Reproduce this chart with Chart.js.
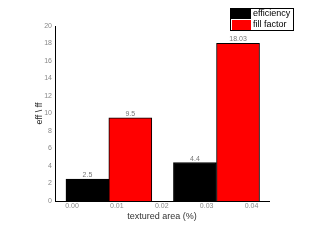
<!DOCTYPE html>
<html>
<head>
<meta charset="utf-8">
<script src="https://cdn.jsdelivr.net/npm/chart.js@4/dist/chart.umd.min.js"></script>
<style>
html,body{margin:0;padding:0;background:#fff;}
#wrap{width:317px;height:245px;position:relative;}
</style>
</head>
<body>
<div id="wrap"><canvas id="c" width="317" height="245"></canvas></div>
<script>
const seriesNames = ['efficiency', 'fill factor'];
const efficiencyX = [0.00345, 0.0274];
const efficiencyY = [2.5, 4.4];
const fillFactorX = [0.0130, 0.0370];
const fillFactorY = [9.5, 18.03];
const xTickLabels = ['0.00', '0.01', '0.02', '0.03', '0.04'];
const yTickLabels = ['0', '2', '4', '6', '8', '10', '12', '14', '16', '18', '20'];
const xTitle = 'textured area (%)';
const yTitle = 'eff \\ ff';

const toPts = (xs, ys) => xs.map((x, i) => ({x: x, y: ys[i]}));

const valueLabels = {
  id: 'valueLabels',
  afterDatasetsDraw(chart) {
    const ctx = chart.ctx;
    ctx.save();
    ctx.font = '7px "Liberation Sans", Arial, sans-serif';
    ctx.fillStyle = '#777';
    ctx.textAlign = 'center';
    ctx.textBaseline = 'alphabetic';
    chart.data.datasets.forEach((ds, di) => {
      chart.getDatasetMeta(di).data.forEach((bar, i) => {
        ctx.fillText(String(ds.data[i].y), bar.x, bar.y - 2);
      });
    });
    ctx.restore();
  }
};

const boxLegend = {
  id: 'boxLegend',
  afterDraw(chart) {
    const ctx = chart.ctx;
    ctx.save();
    const x0 = 230, y0 = 8, w = 63, h = 22;
    ctx.fillStyle = '#fff';
    ctx.fillRect(x0, y0, w, h);
    ctx.font = '9px "Liberation Sans", Arial, sans-serif';
    ctx.textBaseline = 'middle';
    ctx.textAlign = 'left';
    chart.data.datasets.forEach((ds, i) => {
      const ry = y0 + i * 11;
      ctx.fillStyle = ds.backgroundColor;
      ctx.fillRect(x0 + (i === 0 ? 0 : 2), ry + (i === 0 ? 0 : 1), i === 0 ? 21 : 19, i === 0 ? 11 : 10);
      ctx.fillStyle = '#000';
      ctx.fillText(ds.label, x0 + 23, ry + 6);
    });
    ctx.strokeStyle = '#000';
    ctx.lineWidth = 1;
    ctx.strokeRect(x0 + 0.5, y0 + 0.5, w, h);
    ctx.restore();
  }
};

new Chart(document.getElementById('c'), {
  type: 'bar',
  data: {
    datasets: [
      {label: seriesNames[0], data: toPts(efficiencyX, efficiencyY), backgroundColor: '#000000', borderColor: '#000000', borderWidth: 1, barThickness: 43, grouped: false},
      {label: seriesNames[1], data: toPts(fillFactorX, fillFactorY), backgroundColor: '#ff0000', borderColor: '#000000', borderWidth: 1, barThickness: 43, grouped: false}
    ]
  },
  options: {
    responsive: false,
    animation: false,
    layout: {padding: {left: 0, right: 48, top: 26, bottom: 0}},
    plugins: {legend: {display: false}, tooltip: {enabled: false}},
    scales: {
      x: {
        type: 'linear',
        offset: false,
        min: -0.00378,
        max: 0.0439,
        afterBuildTicks(scale) { scale.ticks = xTickLabels.map(v => ({value: parseFloat(v)})); },
        afterFit(scale) { scale.height = 44; },
        grid: {display: false, drawTicks: false, offset: false},
        border: {display: true, color: '#000', width: 1},
        ticks: {
          padding: 1,
          color: '#888',
          font: {size: 7, family: '"Liberation Sans", Arial, sans-serif'},
          callback: (v, i) => xTickLabels[i],
          maxRotation: 0, autoSkip: false
        },
        title: {display: true, text: xTitle, color: '#333', font: {size: 9, family: '"Liberation Sans", Arial, sans-serif'}, padding: {top: 0, bottom: 23}}
      },
      y: {
        min: 0,
        max: 20,
        afterBuildTicks(scale) { scale.ticks = yTickLabels.map(v => ({value: parseFloat(v)})); },
        afterFit(scale) { scale.width = 55; },
        grid: {display: false, drawTicks: false},
        border: {display: true, color: '#000', width: 1},
        ticks: {
          padding: 3,
          color: '#888',
          font: {size: 7, family: '"Liberation Sans", Arial, sans-serif'},
          callback: (v, i) => yTickLabels[i],
          autoSkip: false
        },
        title: {display: true, text: yTitle, color: '#222', font: {size: 9, family: '"Liberation Sans", Arial, sans-serif'}, padding: {top: 34, bottom: 0}}
      }
    }
  },
  plugins: [valueLabels, boxLegend]
});
</script>
</body>
</html>
